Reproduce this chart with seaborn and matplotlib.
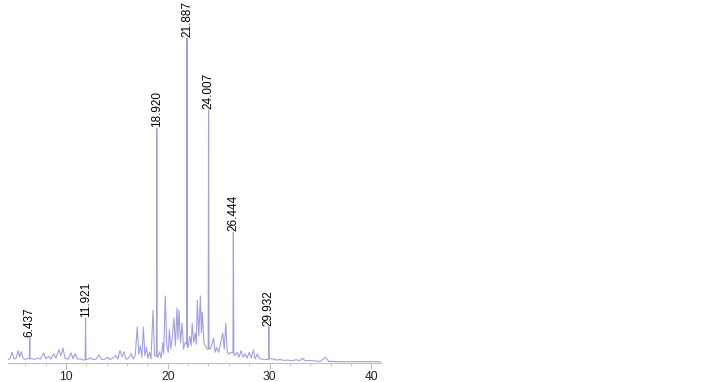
import matplotlib
matplotlib.use("Agg")
import matplotlib.pyplot as plt
import seaborn as sns
import pandas as pd
from matplotlib.ticker import MultipleLocator

# chromatogram trace (retention time in min, relative signal %) #
trace_time = [
    4.3, 4.5, 4.7, 4.9, 5.1, 5.3, 5.45, 5.6, 5.8, 6.0, 6.2, 6.40, 6.437, 6.47,
    6.6, 6.9, 7.2, 7.5, 7.8, 8.0, 8.3, 8.5, 8.8, 9.0, 9.3, 9.5, 9.7, 9.9,
    10.2, 10.5, 10.7, 10.9, 11.1, 11.4, 11.7, 11.88, 11.921, 11.96, 12.1,
    12.4, 12.7, 13.0, 13.2, 13.5, 13.8, 14.1, 14.3, 14.6, 14.9, 15.1, 15.3,
    15.5, 15.7, 15.9, 16.2, 16.4, 16.6, 16.8, 17.0, 17.15, 17.3, 17.45, 17.6,
    17.75, 17.9, 18.05, 18.2, 18.35, 18.55, 18.7, 18.88, 18.92, 18.96, 19.05,
    19.2, 19.35, 19.5, 19.6, 19.75, 19.9, 20.05, 20.15, 20.3, 20.45, 20.6,
    20.75, 20.9, 21.0, 21.1, 21.25, 21.4, 21.55, 21.7, 21.85, 21.887, 21.93,
    22.0, 22.15, 22.3, 22.4, 22.55, 22.7, 22.8, 22.9, 23.05, 23.2, 23.3, 23.4,
    23.55, 23.7, 23.85, 23.97, 24.007, 24.05, 24.15, 24.3, 24.5, 24.65, 24.8,
    25.0, 25.2, 25.4, 25.55, 25.7, 25.85, 26.0, 26.2, 26.40, 26.444, 26.49,
    26.6, 26.8, 27.0, 27.2, 27.4, 27.6, 27.8, 28.0, 28.2, 28.4, 28.6, 28.8,
    29.0, 29.3, 29.6, 29.89, 29.932, 29.97, 30.1, 30.4, 30.7, 31.0, 31.4,
    31.8, 32.2, 32.6, 33.0, 33.2, 33.5, 34.0, 34.5, 35.0, 35.5, 35.8, 36.5,
    37.5, 39.0, 40.9,
]
trace_signal = [
    0.8, 1.0, 3.0, 0.9, 1.2, 3.5, 1.5, 3.2, 1.0, 0.8, 1.1, 1.0, 7.4, 1.0,
    1.0, 0.8, 1.2, 0.9, 2.8, 1.0, 1.8, 0.9, 2.5, 1.2, 3.8, 2.0, 4.3, 1.2,
    0.8, 2.8, 1.0, 2.6, 0.9, 1.0, 0.6, 0.7, 13.6, 0.8, 0.8,
    1.3, 0.7, 1.0, 2.2, 0.8, 0.9, 1.5, 0.8, 1.2, 2.0, 0.9, 3.6,
    1.6, 3.2, 0.8, 1.4, 2.6, 0.9, 2.0, 10.8, 2.5, 5.0, 1.5, 10.8,
    2.0, 4.5, 1.2, 3.0, 1.0, 16.0, 2.0, 1.8, 72.2, 1.6, 1.5,
    3.2, 1.2, 6.0, 2.5, 20.4, 5.0, 3.0, 10.0, 4.0, 8.0, 13.6,
    5.0, 16.7, 7.0, 16.0, 6.0, 12.0, 4.0, 6.0, 5.5, 100.0, 4.5,
    4.5, 8.0, 5.0, 12.0, 6.0, 9.0, 5.5, 19.0, 8.0, 20.4, 9.0, 15.4,
    6.0, 5.0, 4.0, 4.0, 77.8, 4.0, 4.0, 5.0, 7.4, 3.0, 4.5,
    3.0, 6.0, 9.0, 4.0, 12.0, 3.0, 2.5, 3.0, 2.8, 40.1, 2.2,
    2.0, 3.0, 1.5, 3.5, 1.5, 2.5, 1.2, 3.0, 1.3, 3.7, 1.0, 2.5,
    1.0, 0.9, 0.8, 0.8, 10.8, 1.0, 1.0, 0.9, 0.6, 0.8, 0.5,
    0.6, 0.4, 0.7, 0.4, 1.2, 0.4, 0.5, 0.3, 0.2, 1.5, 0.2, 0.15,
    0.1, 0.1, 0.1,
]

# labelled peaks #
peak_rt = [6.437, 11.921, 18.920, 21.887, 24.007, 26.444, 29.932]
peak_height = [7.4, 13.6, 72.2, 100.0, 77.8, 40.1, 10.8]
peak_labels = ["6.437", "11.921", "18.920", "21.887", "24.007", "26.444", "29.932"]

trace = pd.DataFrame({"time": trace_time, "signal": trace_signal})

sns.set_style("white")
plt.rcParams["font.family"] = ["Liberation Sans", "DejaVu Sans"]

fig = plt.figure(figsize=(7.22, 3.82), dpi=100)
ax = fig.add_axes([8 / 722, 19 / 382, 373 / 722, 343 / 382])

sns.lineplot(data=trace, x="time", y="signal", ax=ax, color="#8a8ad8",
             lw=0.8, alpha=0.8, estimator=None)

for rt, h, lab in zip(peak_rt, peak_height, peak_labels):
    ax.annotate(lab, (rt, h), xytext=(0, 1), textcoords="offset points",
                rotation=90, ha="center", va="bottom", fontsize=8.5,
                color="black", annotation_clip=False)

# configure axes #
ax.set_xlim(4.3, 40.95)
ax.set_ylim(-0.3, 105.6)
ax.xaxis.set_major_locator(MultipleLocator(10))
ax.xaxis.set_minor_locator(MultipleLocator(2))
ax.tick_params(axis="x", which="major", length=4, width=0.8, color="#bfbfbf",
               labelsize=8.7, pad=2, bottom=True)
ax.tick_params(axis="x", which="minor", length=2.5, width=0.6, color="#bfbfbf",
               bottom=True)
ax.set_yticks([])
ax.set_xlabel("")
ax.set_ylabel("")
sns.despine(ax=ax, left=True, top=True, right=True)
ax.spines["bottom"].set_color("#bfbfbf")
ax.spines["bottom"].set_linewidth(0.8)
ax.patch.set_alpha(0)

plt.savefig("out.png", dpi=100)
